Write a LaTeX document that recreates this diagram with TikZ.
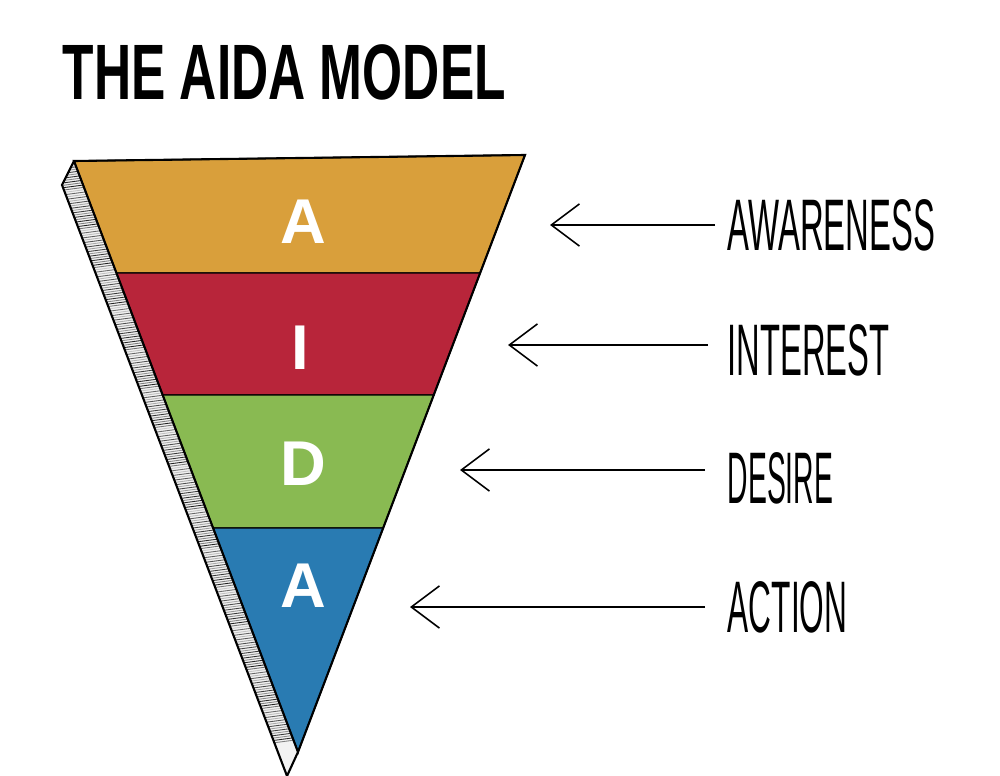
\documentclass[tikz,border=0pt]{standalone}
\usepackage{fontspec}
\setmainfont{Liberation Sans}
\usetikzlibrary{arrows.meta}
\begin{document}
\begin{tikzpicture}[x=0.01cm,y=-0.01cm,
  band/.style={draw=black,line width=0.4pt},
  letter/.style={text=white,font=\fontsize{18}{18}\selectfont\bfseries},
  lbl/.style={anchor=west,inner sep=0pt},
  arr/.style={line width=0.45pt,-{Straight Barb[length=8pt,width=12pt,line width=0.45pt]}}]
\useasboundingbox (0,0) rectangle (1000,776);
% hatched side
\coordinate (tl) at (74,161);
\coordinate (tr) at (525,155);
\coordinate (ap) at (298,752);
\coordinate (so) at (62,185);
\coordinate (sb) at (287,776);
\begin{scope}
\clip (tl) -- (so) -- (sb) -- (ap) -- cycle;
\fill[gray!10] (0,100) rectangle (400,776);
\foreach \i in {0,...,260}{
  \pgfmathsetmacro{\g}{mod(\i*37,70)+20}
  \draw[black!\g,line width=0.25pt] (40,150+\i*2.4) -- (340,150+\i*2.4-40);
}
\end{scope}
\draw[line width=0.6pt] (tl) -- (so) -- (sb) -- (ap);
% bands
\def\lx#1{74+(#1-161)/591*224}
\def\rx#1{525-(#1-155)/597*227}
\fill[band,fill={rgb,255:red,217;green,159;blue,59}] (tl) -- (tr) -- ({\rx{273}},273) -- ({\lx{273}},273) -- cycle;
\fill[band,fill={rgb,255:red,184;green,37;blue,58}] ({\lx{273}},273) -- ({\rx{273}},273) -- ({\rx{395}},395) -- ({\lx{395}},395) -- cycle;
\fill[band,fill={rgb,255:red,137;green,186;blue,82}] ({\lx{395}},395) -- ({\rx{395}},395) -- ({\rx{528}},528) -- ({\lx{528}},528) -- cycle;
\fill[band,fill={rgb,255:red,41;green,123;blue,178}] ({\lx{528}},528) -- ({\rx{528}},528) -- (ap) -- cycle;
\draw[line width=0.6pt] (tl) -- (tr) -- (ap) -- cycle;
% letters
\node[letter] (l1) at (303,222) {A};
\node[letter] (l2) at (300,348) {I};
\node[letter] (l3) at (303,464) {D};
\node[letter] (l4) at (303,586) {A};
% labels
\node[lbl] (w1) at (727,225) {\resizebox{59pt}{14.5pt}{AWARENESS}};
\node[lbl] (w2) at (727,350) {\resizebox{46pt}{14.5pt}{INTEREST}};
\node[lbl] (w3) at (727,478) {\resizebox{30pt}{14.5pt}{DESIRE}};
\node[lbl] (w4) at (727,607) {\resizebox{34pt}{14.5pt}{ACTION}};
\coordinate (e1) at (550,225);
\coordinate (e2) at (508,345);
\coordinate (e3) at (460,470);
\coordinate (e4) at (410,607);
\draw[arr] (715,225) -- (e1);
\draw[arr] (708,345) -- (e2);
\draw[arr] (705,470) -- (e3);
\draw[arr] (705,607) -- (e4);
% title
\node[lbl] (title) at (62,72) {\resizebox{126pt}{15.6pt}{\bfseries THE AIDA MODEL}};
\end{tikzpicture}
\end{document}
